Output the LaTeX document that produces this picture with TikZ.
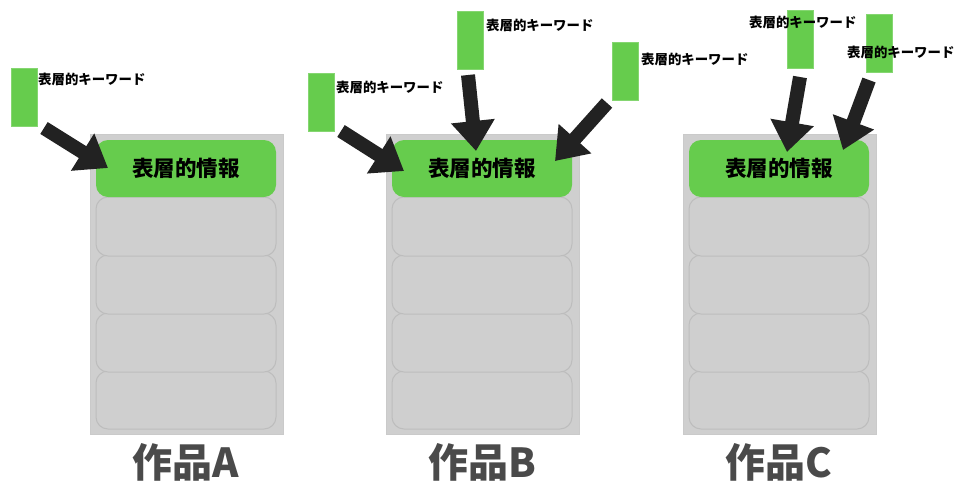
\documentclass[tikz,border=0pt]{standalone}
\usepackage{fontspec}
\newfontfamily\cjk{Noto Sans CJK JP}
\usetikzlibrary{arrows.meta}
\definecolor{kgreen}{HTML}{66CC4D}
\definecolor{pgray}{HTML}{CFCFCF}
\definecolor{pedge}{HTML}{BDBDBD}
\definecolor{arr}{HTML}{222222}
\definecolor{lbl}{HTML}{4A4A4A}
\tikzset{
  container/.style={fill=pgray, draw=pedge!80, line width=1},
  rowbox/.style={fill=pgray, draw=pedge, line width=1, rounded corners=12},
  topbox/.style={fill=kgreen, rounded corners=12},
  kwbox/.style={fill=kgreen, draw=kgreen!80!white, line width=0.6, inner sep=0, minimum width=26, minimum height=58},
  kwtext/.style={font=\cjk\bfseries\fontsize{13.4}{15}\selectfont, inner sep=0, anchor=west},
  bigarrow/.style={draw=arr, line width=14, -{Triangle[width=42,length=30]}},
  infotext/.style={font=\cjk\bfseries\fontsize{21.5}{23}\selectfont, text=black},
  worklabel/.style={font=\cjk\bfseries\fontsize{40}{42}\selectfont, text=lbl}
}
\begin{document}
\begin{tikzpicture}[x=1pt,y=-1pt]
\useasboundingbox (0,0) rectangle (956,483);
\foreach \ox/\nm/\lt in {0/a/A,296/b/B,593/c/C}{
  \begin{scope}[xshift=\ox pt]
    \draw[container] (90,134) rectangle (283,434);
    \draw[rowbox] (96,371) rectangle (276,429);
    \draw[rowbox] (96,313) rectangle (276,372);
    \draw[rowbox] (96,255) rectangle (276,314);
    \draw[rowbox] (96,197) rectangle (276,256);
    \fill[topbox] (96,140) rectangle (276,197);
    \node[infotext] (info\nm) at (186,168) {表層的情報};
    \node[worklabel] (work\nm) at (186,462) {作品\lt};
  \end{scope}
}
% Panel A keyword
\node[kwbox] (ka) at (24,97) {};
\node[kwtext] (kat) at (38,79) {表層的キーワード};
\coordinate (a1s) at (44,128);
\coordinate (a1e) at (108,168);
\draw[bigarrow] (a1s) -- (a1e);
% Panel B keywords
\node[kwbox] (kb1) at (321,102) {};
\node[kwtext] (kb1t) at (336,87) {表層的キーワード};
\node[kwbox] (kb2) at (470,40) {};
\node[kwtext] (kb2t) at (486,25) {表層的キーワード};
\node[kwbox] (kb3) at (625,71) {};
\node[kwtext] (kb3t) at (641,59) {表層的キーワード};
\coordinate (b1s) at (341,131);
\coordinate (b1e) at (404,171);
\draw[bigarrow] (b1s) -- (b1e);
\coordinate (b2s) at (468,75);
\coordinate (b2e) at (476,151);
\draw[bigarrow] (b2s) -- (b2e);
\coordinate (b3s) at (607,103);
\coordinate (b3e) at (555,161);
\draw[bigarrow] (b3s) -- (b3e);
% Panel C keywords
\node[kwbox] (kc1) at (800,39) {};
\node[kwtext] (kc1t) at (749,22) {表層的キーワード};
\node[kwbox] (kc2) at (879,43) {};
\node[kwtext] (kc2t) at (847,52) {表層的キーワード};
\coordinate (c1s) at (800,77);
\coordinate (c1e) at (787,152);
\draw[bigarrow] (c1s) -- (c1e);
\coordinate (c2s) at (869,80);
\coordinate (c2e) at (843,150);
\draw[bigarrow] (c2s) -- (c2e);
\end{tikzpicture}
\end{document}
